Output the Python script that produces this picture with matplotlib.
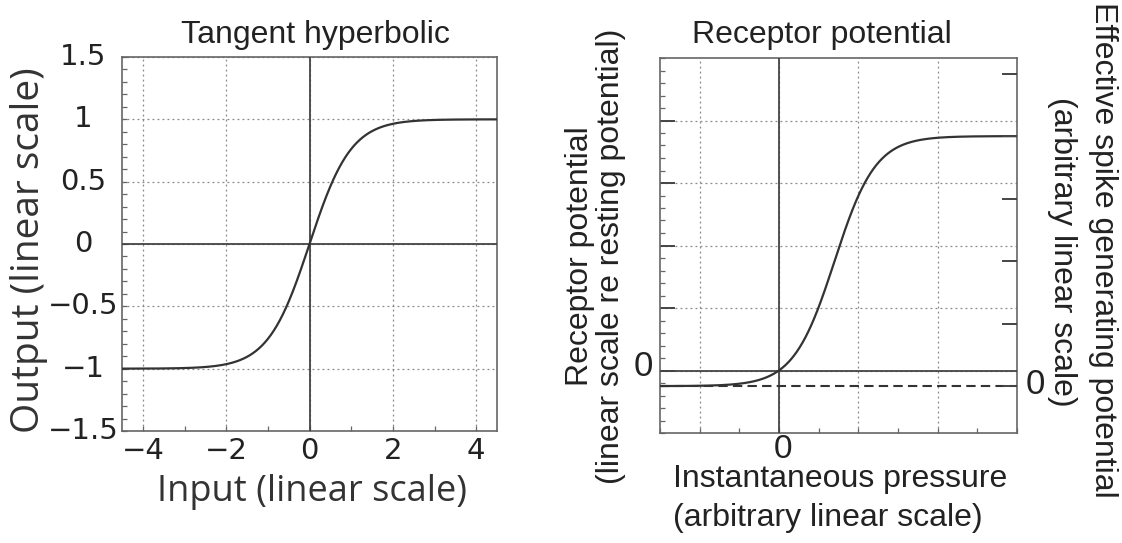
import numpy as np
import matplotlib.pyplot as plt
import matplotlib.transforms as mtransforms
from matplotlib.ticker import MultipleLocator

W, H = 1122, 543

# --- tanh panel ---
tanh_x = np.linspace(-4.5, 4.5, 500)
tanh_xticks = [-4, -2, 0, 2, 4]
tanh_xtick_labels = ["\u22124", "\u22122", "0", "2", "4"]
tanh_yticks = [-1.5, -1, -0.5, 0, 0.5, 1, 1.5]
tanh_ytick_labels = ["\u22121.5", "\u22121", "\u22120.5", "0", "0.5", "1", "1.5"]

# --- receptor panel ---
pressure = np.linspace(-1.5, 3.0, 500)
resting_level = -0.25      # spike-generating zero, in receptor units
saturation_level = 3.75
half_point = 0.7
steepness = 1.93
receptor_xticks = [-1, 0, 1, 2, 3]
receptor_yticks = [0, 1, 2, 3, 4]
spike_yticks = [0, 1, 2, 3, 4, 5]

CURVE = "#333333"
SPINE = "#666666"
GRID = "#888888"


def px_box(left, top, right, bottom):
    return [left / W, 1 - bottom / H, (right - left) / W, (bottom - top) / H]


def fx(x):
    return x / W


def fy(y):
    return 1 - y / H


def nudge(labels, dx_px, dy_px):
    # shift tick labels by a few pixels (y up)
    for lab in labels:
        off = mtransforms.ScaledTranslation(dx_px / 100, dy_px / 100, fig.dpi_scale_trans)
        lab.set_transform(lab.get_transform() + off)


fig = plt.figure(figsize=(W / 100, H / 100), dpi=100)

# ---------------- left: tangent hyperbolic ----------------
ax = fig.add_axes(px_box(122, 57, 497, 431))
ax.plot(tanh_x, np.tanh(tanh_x), color=CURVE, lw=1.6, zorder=4)
ax.axhline(0, color="#444444", lw=1.3, zorder=3)
ax.axvline(0, color="#444444", lw=1.3, zorder=3)
ax.set_xlim(-4.5, 4.5)
ax.set_ylim(-1.5, 1.5)
ax.set_xticks(tanh_xticks)
ax.set_xticklabels(tanh_xtick_labels, family="DejaVu Sans", fontsize=21, color="#222222")
ax.set_yticks(tanh_yticks)
ax.set_yticklabels(tanh_ytick_labels, family="DejaVu Sans", fontsize=21, color="#222222")
ax.xaxis.set_minor_locator(MultipleLocator(1))
ax.yaxis.set_minor_locator(MultipleLocator(0.1))
ax.grid(True, which="major", ls=(0, (1.5, 2.5)), color=GRID, lw=0.9)
ax.tick_params(which="both", direction="in", length=3.6, width=0.9, color=SPINE,
               top=False, right=False)
ax.tick_params(axis="x", pad=4)
ax.tick_params(axis="y", pad=28)
for lab in ax.get_yticklabels():
    lab.set_ha("center")
nudge(ax.get_yticklabels(), 0, 3)
for s in ax.spines.values():
    s.set_color(SPINE)
    s.set_linewidth(1.2)

fig.text(fx(315), fy(43), "Tangent hyperbolic", family="Liberation Sans",
         fontsize=23, ha="center", va="baseline", color="#222222")
fig.text(fx(29), fy(250), "Output (linear scale)", family="Open Sans", fontsize=28,
         rotation=90, ha="center", va="center", color="#333333")
fig.text(fx(312), fy(492), "Input (linear scale)", family="Open Sans", fontsize=26,
         ha="center", va="center", color="#333333")

# ---------------- right: receptor potential ----------------
bx = fig.add_axes(px_box(660, 58, 1017, 433))
response = (saturation_level + resting_level) / 2 + \
    (saturation_level - resting_level) / 2 * np.tanh(steepness * (pressure - half_point))
bx.plot(pressure, response, color=CURVE, lw=1.6, zorder=4)
bx.axhline(0, color="#444444", lw=1.3, zorder=3)
bx.axvline(0, color="#444444", lw=1.3, zorder=3)
bx.axhline(resting_level, color="#333333", lw=1.5, ls=(0, (4.5, 2.5)), zorder=3)
bx.set_xlim(-1.5, 3.0)
bx.set_ylim(-1, 5)
bx.set_xticks(receptor_xticks)
bx.set_xticklabels(["0" if t == 0 else "" for t in receptor_xticks],
                   family="Liberation Sans", fontsize=24, color="#222222")
bx.set_yticks(receptor_yticks)
bx.set_yticklabels(["0" if t == 0 else "" for t in receptor_yticks],
                   family="Liberation Sans", fontsize=25, color="#222222")
bx.xaxis.set_minor_locator(MultipleLocator(0.5))
bx.yaxis.set_minor_locator(MultipleLocator(0.2))
bx.grid(True, which="major", ls=(0, (1.5, 2.5)), color=GRID, lw=0.9)
bx.tick_params(which="minor", direction="in", length=3.6, width=0.9, color=SPINE,
               top=False, right=False)
bx.tick_params(axis="y", which="major", direction="in", length=10.8, width=1.4,
               color="#444444", right=False, pad=5)
bx.tick_params(axis="x", which="major", direction="in", length=3.6, width=0.9,
               color=SPINE, top=False, pad=2)
nudge(bx.get_yticklabels(), 0, 8)
nudge(bx.get_xticklabels(), 4, 2)
for s in bx.spines.values():
    s.set_color(SPINE)
    s.set_linewidth(1.2)

tx = bx.twinx()
tx.set_ylim(-1 - resting_level, 5 - resting_level)
tx.set_yticks(spike_yticks)
tx.set_yticklabels(["0" if t == 0 else "" for t in spike_yticks],
                   family="Liberation Sans", fontsize=25, color="#222222")
tx.tick_params(axis="y", direction="in", length=10.8, width=1.4, color="#444444", pad=6)
nudge(tx.get_yticklabels(), 0, 5)
for s in tx.spines.values():
    s.set_visible(False)

fig.text(fx(822), fy(43), "Receptor potential", family="Liberation Sans",
         fontsize=23, ha="center", va="baseline", color="#222222")
fig.text(fx(673), fy(487), "Instantaneous pressure", family="Liberation Sans",
         fontsize=23, ha="left", va="baseline", color="#222222")
fig.text(fx(673), fy(526), "(arbitrary linear scale)", family="Liberation Sans",
         fontsize=23, ha="left", va="baseline", color="#222222")
fig.text(fx(580), fy(256), "Receptor potential", family="Liberation Sans",
         fontsize=23, rotation=90, ha="center", va="center", color="#222222")
fig.text(fx(611), fy(256), "(linear scale re resting potential)", family="Liberation Sans",
         fontsize=23, rotation=90, ha="center", va="center", color="#222222")
fig.text(fx(1103), fy(250), "Effective spike generating potential", family="Liberation Sans",
         fontsize=23, rotation=270, ha="center", va="center", color="#222222")
fig.text(fx(1062), fy(252), "(arbitrary linear scale)", family="Liberation Sans",
         fontsize=23, rotation=270, ha="center", va="center", color="#222222")

fig.savefig("out.png", dpi=100, facecolor="white")
